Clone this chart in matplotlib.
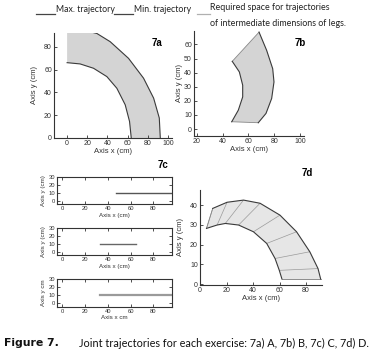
import matplotlib
matplotlib.use("Agg")
import matplotlib.pyplot as plt
from matplotlib.collections import LineCollection

# ---- data ----
# 7a
a_max_x = [0, 15, 29.5, 42.7, 60.9, 75.8, 85.8, 91.4, 92.4]
a_max_y = [96, 94.8, 91.6, 84.4, 69.8, 52.4, 34.9, 17.5, 0]
a_min_x = [0, 12.9, 26.2, 39.4, 49.3, 57.6, 61.9, 63.6]
a_min_y = [66, 64.9, 61.1, 53.8, 43.6, 29.1, 14.5, 0]
# 7b
b_max_x = [68.2, 74.1, 78.8, 79.8, 78.0, 73.6, 67.6]
b_max_y = [68.7, 55.8, 42.8, 33.4, 21.7, 11.1, 4.5]
b_min_x = [47.4, 52.9, 55.5, 55.5, 52.1, 47.0]
b_min_y = [48.0, 40.5, 31.1, 22.8, 13.4, 5.2]
# 7c (three sub-exercises)
c_x0 = [47, 33, 33]
c_x1 = [96.4, 65, 96.4]
c_y = [10, 10, 10]
c_ylabels = ["Axis y (cm)", "Axis y (cm)", "Axis y cm"]
c_xlabels = ["Axis x (cm)", "Axis x (cm)", "Axis x cm"]
# 7d
d_max_x = [9.6, 20.4, 32.8, 45.3, 60.3, 72.8, 82.8, 89.0, 91.0]
d_max_y = [38.3, 41.4, 42.5, 40.9, 34.9, 26.5, 16.4, 7.9, 2.6]
d_min_x = [4.9, 12.9, 19.1, 29.1, 40.3, 50.3, 56.6, 59.8, 61.8]
d_min_y = [28.2, 29.9, 30.7, 29.9, 26.5, 20.6, 13.0, 7.0, 2.6]

W, H = 377, 356
fig = plt.figure(figsize=(W / 100, H / 100), dpi=100)

TICKFONT = ["Liberation Sans Narrow", "Liberation Sans", "DejaVu Sans"]
LINEC = "#3a3a3a"
FILLC = "#d4d4d4"


def ax_px(l, t, r, b):
    return fig.add_axes([l / W, 1 - b / H, (r - l) / W, (b - t) / H])


def style(ax, box=False, fs=5.0):
    for s in ["top", "right"]:
        ax.spines[s].set_visible(box)
    for s in ax.spines.values():
        s.set_linewidth(0.8)
        s.set_color("#333333")
    ax.tick_params(direction="in", length=2, width=0.6, labelsize=fs,
                   colors="#333333", pad=1.5, top=box, right=box)
    for lab in ax.get_xticklabels() + ax.get_yticklabels():
        lab.set_family(TICKFONT)


def band(ax, ox, oy, ix, iy, fc=FILLC, connectors=False):
    px = list(ox) + list(ix)[::-1]
    py = list(oy) + list(iy)[::-1]
    ax.fill(px, py, facecolor=fc, edgecolor="none", zorder=1)
    if connectors:
        segs = [[(a, b), (c, d)] for a, b, c, d in zip(ox, oy, ix, iy)]
        ax.add_collection(LineCollection(segs, colors="#9a9a9a", linewidths=0.5, zorder=2))
    ax.plot(ox, oy, color=LINEC, lw=0.8, zorder=3)
    ax.plot(ix, iy, color=LINEC, lw=0.8, zorder=3)


def labels(ax, xl, yl, fs=5.5, ypad=2):
    ax.set_xlabel(xl, fontsize=fs, family=TICKFONT, labelpad=1, color="#333333")
    ax.set_ylabel(yl, fontsize=fs, family=TICKFONT, labelpad=ypad, color="#333333")


# ---- 7a ----
ax = ax_px(54, 33, 172, 138)
band(ax, a_max_x, a_max_y, a_min_x, a_min_y)
ax.set_xlim(-13, 104)
ax.set_ylim(0, 92)
ax.set_xticks([0, 20, 40, 60, 80, 100])
ax.set_yticks([0, 20, 40, 60, 80])
style(ax)
labels(ax, "Axis x (cm)", "Axis y (cm)", ypad=4)
fig.text(157 / W, 1 - 43 / H, "7a", fontsize=7, fontweight="bold", ha="center", va="center", family=TICKFONT)

# ---- 7b ----
ax = ax_px(194, 31, 304, 136)
band(ax, b_max_x, b_max_y, b_min_x, b_min_y)
ax.plot([b_min_x[0], b_max_x[0]], [b_min_y[0], b_max_y[0]], color="#888888", lw=0.6)
ax.plot([b_min_x[-1], b_max_x[-1]], [b_min_y[-1], b_max_y[-1]], color="#888888", lw=0.6)
ax.set_xlim(17.7, 103.1)
ax.set_ylim(-4.9, 69.5)
ax.set_xticks([20, 40, 60, 80, 100])
ax.set_yticks([0, 10, 20, 30, 40, 50, 60])
style(ax)
labels(ax, "Axis x (cm)", "Axis y (cm)", ypad=1)
fig.text(300 / W, 1 - 43 / H, "7b", fontsize=7, fontweight="bold", ha="center", va="center", family=TICKFONT)

# ---- 7c ----
c_tops = [176.7, 227.7, 279.0]
c_cols = ["#555555", "#666666", "#9a9a9a"]
c_lws = [1.0, 1.0, 1.6]
for i in range(3):
    t = c_tops[i]
    ax = ax_px(57, t, 172, t + 27.6)
    ax.plot([c_x0[i], c_x1[i]], [c_y[i], c_y[i]], color=c_cols[i], lw=c_lws[i])
    ax.set_xlim(-4.7, 96.4)
    ax.set_ylim(-4.3, 30.5)
    ax.set_xticks([0, 20, 40, 60, 80])
    ax.set_yticks([0, 10, 20, 30])
    style(ax, box=True, fs=4.2)
    labels(ax, c_xlabels[i], c_ylabels[i], fs=4.5, ypad=1.5)
fig.text(163 / W, 1 - 165 / H, "7c", fontsize=7, fontweight="bold", ha="center", va="center", family=TICKFONT)

# ---- 7d ----
ax = ax_px(200, 190, 322, 285)
band(ax, d_max_x, d_max_y, d_min_x, d_min_y, fc="#e6e6e6", connectors=True)
ax.plot([d_min_x[0], d_max_x[0]], [d_min_y[0], d_max_y[0]], color="#888888", lw=0.6)
ax.plot([d_min_x[-1], d_max_x[-1]], [d_min_y[-1], d_max_y[-1]], color="#888888", lw=0.6)
ax.set_xlim(0, 92)
ax.set_ylim(-0.4, 47.6)
ax.set_xticks([0, 20, 40, 60, 80])
ax.set_yticks([0, 10, 20, 30, 40])
style(ax)
labels(ax, "Axis x (cm)", "Axis y (cm)", ypad=4)
fig.text(307 / W, 1 - 173 / H, "7d", fontsize=7, fontweight="bold", ha="center", va="center", family=TICKFONT)

# ---- legend at top ----
LF = ["Lato", "DejaVu Sans"]
ly = 1 - 14 / H
fig.add_artist(plt.Line2D([36 / W, 55 / W], [ly, ly], color="#444444", lw=0.9))
fig.text(55.5 / W, ly, "Max. trajectory", fontsize=6.3, family=LF, va="bottom", ha="left", color="#222222")
fig.add_artist(plt.Line2D([114 / W, 133 / W], [ly, ly], color="#444444", lw=0.9))
fig.text(133.5 / W, ly, "Min. trajectory", fontsize=6.3, family=LF, va="bottom", ha="left", color="#222222")
fig.add_artist(plt.Line2D([197 / W, 210 / W], [ly, ly], color="#b0b0b0", lw=0.9))
fig.text(210.5 / W, 1 - 7 / H, "Required space for trajectories", fontsize=6.4, family=LF, va="center", ha="left", color="#222222")
fig.text(210.5 / W, 1 - 23 / H, "of intermediate dimensions of legs.", fontsize=6.4, family=LF, va="center", ha="left", color="#222222")

# ---- caption ----
fig.text(4 / W, 1 - 343 / H, "Figure 7.", fontsize=7.8, family=["DejaVu Sans"], fontweight="bold", va="center", ha="left", color="#111111")
fig.text(79 / W, 1 - 343 / H, "Joint trajectories for each exercise: 7a) A, 7b) B, 7c) C, 7d) D.",
         fontsize=7.85, family=LF, va="center", ha="left", color="#111111")

fig.savefig("out.png", dpi=100)
